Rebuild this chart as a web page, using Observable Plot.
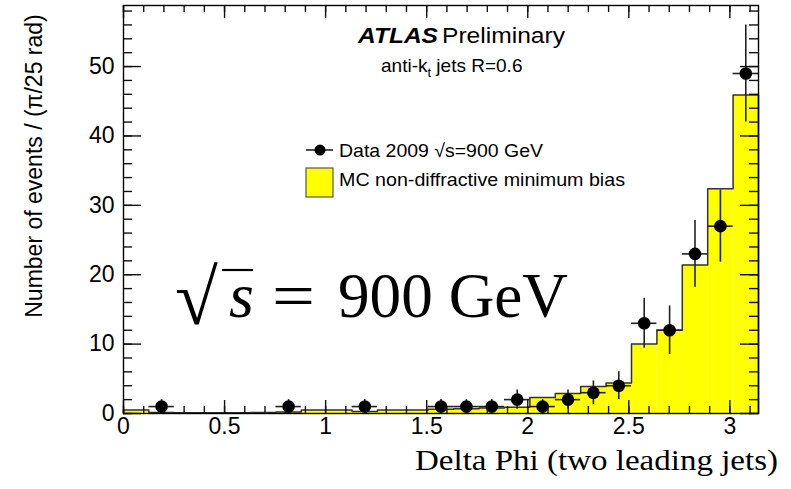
<!DOCTYPE html>
<html><head><meta charset="utf-8">
<script src="https://cdn.jsdelivr.net/npm/d3@7"></script>
<script src="https://cdn.jsdelivr.net/npm/@observablehq/plot@0.6"></script>
<style>
body{margin:0;background:#fff}
#chart{position:relative;width:791px;height:489px}
</style>
</head><body><div id="chart"></div>
<script>
// Delta-phi histogram, 25 bins of pi/25 rad
const nBins = 25;
const mcCounts = [0.5, 0.15, 0.1, 0.1, 0.1, 0.15, 0.2, 0.5, 0.5, 0.3, 0.5, 0.5, 0.6, 0.7, 0.8, 0.9, 2.3, 2.9, 3.9, 4.4, 10.0, 12.0, 21.4, 32.4, 45.9];
const dataCounts = [0, 1, 0, 0, 0, 0, 1, 0, 0, 1, 0, 0, 1, 1, 1, 2, 1, 2, 3, 4, 13, 12, 23, 27, 49];
const dataErrors = [0, 1, 0, 0, 0, 0, 1, 0, 0, 1, 0, 0, 1, 1, 1, 1.4, 1, 1.4, 1.7, 2, 3.6, 3.5, 4.8, 5.2, 7];
const xTicks = [0, 0.5, 1, 1.5, 2, 2.5, 3];
const xTickLabels = ["0", "0.5", "1", "1.5", "2", "2.5", "3"];
const yTicks = [0, 10, 20, 30, 40, 50];
const yTickLabels = ["0", "10", "20", "30", "40", "50"];
const xMinorTicks = d3.range(0, 3.15, 0.1);
const yMinorTicks = d3.range(0, 59, 2);

const W = 791, H = 489, mL = 123, mR = 33, mT = 5, mB = 76;
const plotW = W - mL - mR, plotH = H - mT - mB;

const binW = Math.PI / nBins;
const mc = mcCounts.map((v, i) => ({x1: i * binW, x2: (i + 1) * binW, y: v}));
const outline = [{x: 0, y: 0}];
mc.forEach(d => { outline.push({x: d.x1, y: d.y}); outline.push({x: d.x2, y: d.y}); });
outline.push({x: Math.PI, y: 0});
const pts = dataCounts.map((v, i) => ({x: (i + 0.5) * binW, x1: i * binW, x2: (i + 1) * binW, y: v, e: dataErrors[i]})).filter(d => d.y > 0);

const ts = {stroke: "#111", strokeWidth: 1.4};
const chart = Plot.plot({
  width: W, height: H,
  marginLeft: mL, marginRight: mR, marginTop: mT, marginBottom: mB,
  style: {fontFamily: "Liberation Sans, Arial, sans-serif", background: "white", color: "black"},
  x: {domain: [0, Math.PI]},
  y: {domain: [0, 58.8]},
  marks: [
    Plot.rectY(mc, {x1: "x1", x2: "x2", y: "y", fill: "#ffff00"}),
    Plot.line(outline, {x: "x", y: "y", stroke: "#333", strokeWidth: 1.5}),
    Plot.ruleX(pts, {x: "x", y1: d => Math.max(0, d.y - d.e), y2: d => d.y + d.e, stroke: "#222", strokeWidth: 1.6}),
    Plot.ruleY(pts, {y: "y", x1: "x1", x2: "x2", stroke: "#222", strokeWidth: 1.6}),
    Plot.dot(pts, {x: "x", y: "y", r: 6.3, fill: "black", stroke: "none"}),
    // tick labels
    Plot.axisX(xTicks, {anchor: "bottom", tickSize: 0, tickPadding: 4, fontSize: 23, label: null, tickFormat: d => xTickLabels[xTicks.indexOf(d)]}),
    Plot.axisY(yTicks, {anchor: "left", tickSize: 0, tickPadding: 9, fontSize: 23, label: null, tickFormat: d => yTickLabels[yTicks.indexOf(d)]}),
    // inward ticks on all four sides
    Plot.ruleX(xTicks, {x: d => d, insetTop: plotH - 13, ...ts}),
    Plot.ruleX(xMinorTicks, {x: d => d, insetTop: plotH - 7, ...ts}),
    Plot.ruleX(xTicks, {x: d => d, insetBottom: plotH - 13, ...ts}),
    Plot.ruleX(xMinorTicks, {x: d => d, insetBottom: plotH - 7, ...ts}),
    Plot.ruleY(yTicks, {y: d => d, insetRight: plotW - 18, ...ts}),
    Plot.ruleY(yMinorTicks, {y: d => d, insetRight: plotW - 9, ...ts}),
    Plot.ruleY(yTicks, {y: d => d, insetLeft: plotW - 18, ...ts}),
    Plot.ruleY(yMinorTicks, {y: d => d, insetLeft: plotW - 9, ...ts}),
    Plot.frame({stroke: "black", strokeWidth: 1.4})
  ]
});
document.getElementById("chart").appendChild(chart);

// annotations
const svg = d3.select(chart);
const g = svg.append("g").attr("text-anchor", "start").attr("fill", "black")
  .attr("font-family", "Liberation Sans, Arial, sans-serif");
g.append("text").attr("transform", "translate(42,166) rotate(-90)").attr("text-anchor", "middle")
  .attr("font-size", 23).text("Number of events / (\u03c0/25 rad)");
g.append("text").attr("x", 415).attr("y", 470).attr("font-family", "Liberation Serif, Times New Roman, serif")
  .attr("font-size", 29).attr("textLength", 363).attr("lengthAdjust", "spacingAndGlyphs")
  .text("Delta Phi (two leading jets)");
g.append("text").attr("x", 358).attr("y", 43).attr("font-size", 22).attr("font-weight", "bold").attr("font-style", "italic")
  .attr("textLength", 80).attr("lengthAdjust", "spacingAndGlyphs").text("ATLAS");
g.append("text").attr("x", 442).attr("y", 43).attr("font-size", 22)
  .attr("textLength", 123).attr("lengthAdjust", "spacingAndGlyphs").text("Preliminary");
const sub = g.append("text").attr("x", 381).attr("y", 72).attr("font-size", 19);
sub.append("tspan").text("anti-k");
sub.append("tspan").attr("font-size", 13).attr("dy", 5).text("t");
sub.append("tspan").attr("dy", -5).text(" jets R=0.6");
g.append("line").attr("x1", 306).attr("x2", 333).attr("y1", 150).attr("y2", 150).attr("stroke", "#222").attr("stroke-width", 1.6);
g.append("circle").attr("cx", 320).attr("cy", 150).attr("r", 5.5).attr("fill", "black");
g.append("text").attr("x", 339).attr("y", 157).attr("font-size", 19).attr("textLength", 204).attr("lengthAdjust", "spacingAndGlyphs")
  .text("Data 2009 \u221as=900 GeV");
g.append("rect").attr("x", 306).attr("y", 168).attr("width", 27).attr("height", 29).attr("fill", "#ffff00").attr("stroke", "#555").attr("stroke-width", 1.2);
g.append("text").attr("x", 339).attr("y", 186).attr("font-size", 19).attr("textLength", 286).attr("lengthAdjust", "spacingAndGlyphs")
  .text("MC non-diffractive minimum bias");
const serif = "Liberation Serif, Times New Roman, serif";
g.append("text").attr("x", 175).attr("y", 324).attr("font-family", serif).attr("font-size", 78).text("\u221a");
g.append("line").attr("x1", 222).attr("x2", 253).attr("y1", 270).attr("y2", 270).attr("stroke", "black").attr("stroke-width", 2.2);
g.append("text").attr("x", 229).attr("y", 317).attr("font-family", serif).attr("font-style", "italic").attr("font-size", 64).text("s");
g.append("text").attr("x", 272).attr("y", 317).attr("font-family", serif).attr("font-size", 64)
  .attr("textLength", 43).attr("lengthAdjust", "spacingAndGlyphs").text("=");
g.append("text").attr("x", 338).attr("y", 317).attr("font-family", serif).attr("font-size", 64)
  .attr("textLength", 230).attr("lengthAdjust", "spacingAndGlyphs").text("900 GeV");
</script>
</body></html>
